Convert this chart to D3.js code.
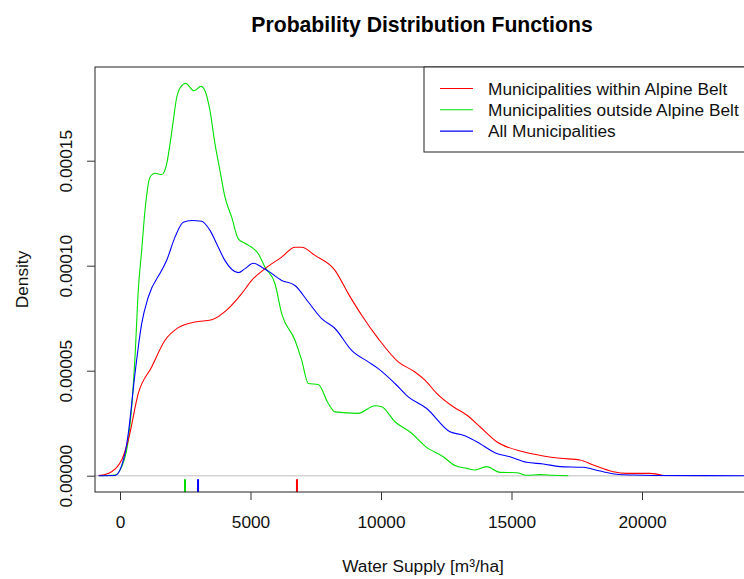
<!DOCTYPE html>
<html>
<head>
<meta charset="utf-8">
<script src="https://cdn.jsdelivr.net/npm/d3@7"></script>
<style>
  html, body { margin: 0; padding: 0; background: #fff; }
  svg { display: block; font-family: "Liberation Sans", Arial, sans-serif; }
</style>
</head>
<body>
<svg id="chart" width="744" height="579"></svg>
<script>
// ---------- data ----------
const seriesNames = ["Municipalities within Alpine Belt", "Municipalities outside Alpine Belt", "All Municipalities"];
const seriesColors = ["#ff0000", "#00e000", "#0000ff"];

const alpineX = [-820, -448, 65, 318, 701, 1214, 1724, 2233, 2873, 3513, 4149, 4662, 5045, 5555, 6195, 6704, 6961, 7470, 8237, 8746, 9260, 9895, 10661, 11301, 11685, 12133, 12769, 13282, 13792, 14432, 15451, 16217, 16856, 17623, 18132, 18899, 19412, 20304, 20814];
const alpineY = [0.01, 0.11, 0.75, 1.70, 3.92, 5.18, 6.45, 7.05, 7.32, 7.43, 7.96, 8.67, 9.30, 9.86, 10.41, 10.88, 10.88, 10.49, 9.78, 8.67, 7.64, 6.53, 5.42, 4.94, 4.55, 3.92, 3.28, 2.89, 2.33, 1.62, 1.14, 0.94, 0.83, 0.75, 0.51, 0.19, 0.11, 0.11, 0.01].map(v => v * 1e-5);

const outsideX = [-766, -192, 65, 318, 448, 575, 701, 831, 958, 1149, 1341, 1598, 1789, 1916, 2042, 2172, 2363, 2517, 2835, 3103, 3256, 3448, 3639, 3831, 4023, 4279, 4532, 4789, 5045, 5298, 5555, 5938, 6195, 6704, 6961, 7214, 7597, 7980, 8237, 9129, 9769, 10025, 10535, 11175, 11685, 12386, 12834, 13282, 13600, 14048, 14558, 15198, 15581, 16090, 16600, 17175];
const outsideY = [0, 0.03, 0.43, 1.70, 3.28, 5.66, 8.83, 10.73, 12.63, 14.21, 14.40, 14.34, 14.85, 15.80, 16.91, 18.01, 18.57, 18.68, 18.33, 18.54, 18.33, 17.38, 15.80, 14.53, 13.26, 12.31, 11.28, 11.07, 10.88, 10.57, 9.93, 9.14, 7.72, 6.45, 5.50, 4.39, 4.34, 3.44, 3.04, 2.97, 3.33, 3.28, 2.57, 2.02, 1.41, 0.90, 0.48, 0.35, 0.27, 0.43, 0.16, 0.14, 0.02, 0.05, 0.02, 0].map(v => v * 1e-5);

const allX = [-820, -192, 192, 318, 575, 831, 1084, 1598, 1789, 2107, 2425, 2747, 3130, 3448, 3766, 4023, 4532, 4789, 5107, 5429, 5681, 6195, 6704, 7214, 7727, 8237, 8876, 9512, 9895, 10535, 11044, 11750, 12643, 13152, 13666, 14432, 14941, 15581, 16217, 16856, 17749, 18389, 19029, 19665, 20431, 23906, 25000];
const allY = [0, 0.01, 1.06, 2.02, 4.87, 7.24, 8.51, 9.78, 10.26, 11.36, 12.07, 12.15, 12.12, 11.68, 10.88, 10.24, 9.67, 9.86, 10.12, 9.93, 9.74, 9.30, 9.06, 8.27, 7.48, 7.01, 5.97, 5.42, 5.10, 4.39, 3.75, 3.20, 2.09, 1.93, 1.62, 1.06, 0.90, 0.64, 0.56, 0.43, 0.40, 0.22, 0.07, 0.03, 0.01, 0, 0].map(v => v * 1e-5);

// medians (rug marks)
const medians = [6780, 2490, 2990];

const xTicks = [0, 5000, 10000, 15000, 20000];
const yTicks = [0, 0.00005, 0.00010, 0.00015];
const yTickLabels = ["0.00000", "0.00005", "0.00010", "0.00015"];

// ---------- layout ----------
const svg = d3.select("#chart");
const box = { left: 95, right: 750, top: 67, bottom: 492 };
const x = d3.scaleLinear().domain([0, 20000]).range([120, 642]);
const y = d3.scaleLinear().domain([0, 0.00015]).range([475.7, 160.7]);
const fs = 17.3;

svg.append("defs").append("clipPath").attr("id", "clip")
  .append("rect").attr("x", box.left).attr("y", box.top)
  .attr("width", box.right - box.left).attr("height", box.bottom - box.top);

// title
svg.append("text").attr("x", 422).attr("y", 32)
  .attr("text-anchor", "middle").attr("font-size", 21.2).attr("font-weight", "bold")
  .attr("fill", "#000").text("Probability Distribution Functions");

// zero reference line
svg.append("line").attr("clip-path", "url(#clip)")
  .attr("x1", box.left).attr("x2", box.right).attr("y1", y(0)).attr("y2", y(0))
  .attr("stroke", "#d3d3d3").attr("stroke-width", 1.5);

// curves
const line = d3.line().x(d => x(d[0])).y(d => y(d[1])).curve(d3.curveMonotoneX);
const seriesData = [
  d3.zip(alpineX, alpineY),
  d3.zip(outsideX, outsideY),
  d3.zip(allX, allY)
];
const g = svg.append("g").attr("clip-path", "url(#clip)");
[1, 0, 2].forEach(i => {
  g.append("path").datum(seriesData[i])
    .attr("d", line).attr("fill", "none")
    .attr("stroke", seriesColors[i]).attr("stroke-width", 1.1);
});

// median marks
medians.forEach((m, i) => {
  g.append("line").attr("x1", x(m)).attr("x2", x(m))
    .attr("y1", y(0) + 3.5).attr("y2", box.bottom)
    .attr("stroke", seriesColors[i]).attr("stroke-width", 2);
});

// box
svg.append("rect").attr("x", box.left).attr("y", box.top)
  .attr("width", box.right - box.left).attr("height", box.bottom - box.top)
  .attr("fill", "none").attr("stroke", "#222").attr("stroke-width", 1);

// x axis
const xAxis = d3.axisBottom(x).tickValues(xTicks).tickSize(8).tickPadding(16).tickFormat(d3.format("d"));
const gx = svg.append("g").attr("transform", `translate(0,${box.bottom})`).call(xAxis);
gx.select(".domain").remove();
gx.selectAll(".tick line").attr("stroke", "#333");
gx.selectAll(".tick text").attr("font-size", fs).attr("fill", "#111")
  .attr("font-family", "'Liberation Sans', Arial, sans-serif");

// y axis
const yAxis = d3.axisLeft(y).tickValues(yTicks).tickSize(8).tickPadding(0)
  .tickFormat((d, i) => yTickLabels[i]);
const gy = svg.append("g").attr("transform", `translate(${box.left},0)`).call(yAxis);
gy.select(".domain").remove();
gy.selectAll(".tick line").attr("stroke", "#333");
gy.selectAll(".tick text")
  .attr("font-size", fs).attr("fill", "#111")
  .attr("font-family", "'Liberation Sans', Arial, sans-serif")
  .attr("text-anchor", "middle").attr("dy", null).attr("x", null)
  .attr("transform", "translate(-23,0) rotate(-90)");

// axis titles
svg.append("text").attr("x", 423).attr("y", 572).attr("text-anchor", "middle")
  .attr("font-size", fs).attr("fill", "#111").text("Water Supply [m³/ha]");
svg.append("text").attr("transform", `translate(28,${(box.top + box.bottom) / 2}) rotate(-90)`)
  .attr("text-anchor", "middle").attr("font-size", fs).attr("fill", "#111").text("Density");

// legend
const lg = svg.append("g");
lg.append("rect").attr("x", 424).attr("y", box.top).attr("width", box.right - 424).attr("height", 85)
  .attr("fill", "#fff").attr("stroke", "#222").attr("stroke-width", 1);
seriesNames.forEach((name, i) => {
  const ly = 88.5 + i * 21.3;
  lg.append("line").attr("x1", 440).attr("x2", 473).attr("y1", ly).attr("y2", ly)
    .attr("stroke", seriesColors[i]).attr("stroke-width", 1.1);
  lg.append("text").attr("x", 488).attr("y", ly + 6).attr("font-size", fs)
    .attr("fill", "#111").text(name);
});
</script>
</body>
</html>
